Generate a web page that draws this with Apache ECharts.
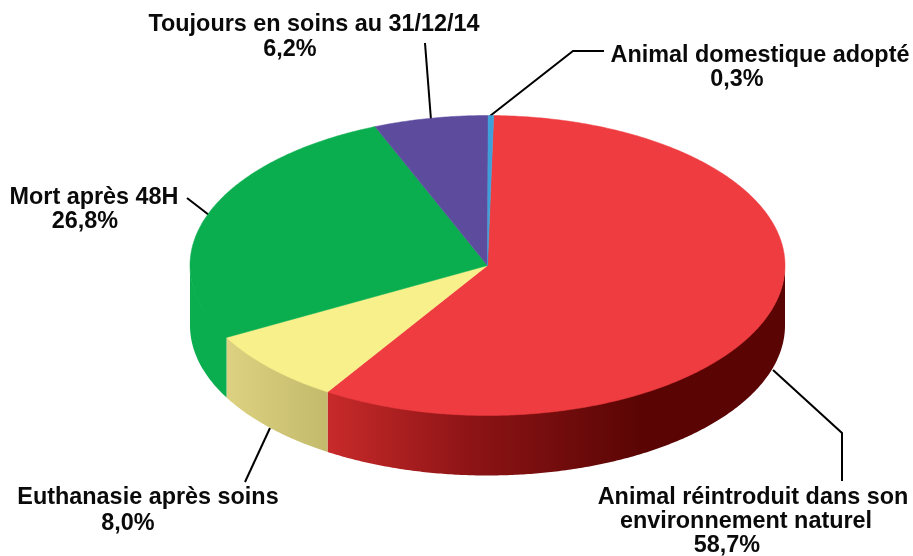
<!DOCTYPE html>
<html>
<head>
<meta charset="utf-8">
<title>Devenir des animaux</title>
<script src="https://cdn.jsdelivr.net/npm/echarts@6/dist/echarts.min.js"></script>
<style>
  html, body { margin: 0; padding: 0; background: #fff; }
  #chart { width: 913px; height: 556px; }
</style>
</head>
<body>
<div id="chart"></div>
<script>
// values, clockwise from the top
const categories = ['Animal réintroduit dans son environnement naturel', 'Euthanasie après soins', 'Mort après 48H', 'Toujours en soins au 31/12/14', 'Animal domestique adopté']
const shares = [58.7, 8.0, 26.8, 6.2, 0.3]
const topColors = ['#ee3c40', '#f8f08a', '#0bae4f', '#5d4b9e', '#3e9fd9']

// fake 3D pie: ellipse + extruded front wall
const cx = 487.5, cy = 265.5, rx = 297.5, ry = 150, depth = 60
const startDeg = 1.2
const total = shares.reduce((a, b) => a + b, 0)

function pt(deg, dy) {
  const t = deg * Math.PI / 180
  return [cx + rx * Math.sin(t), cy - ry * Math.cos(t) + (dy || 0)]
}

function arc(from, to, dy) {
  const pts = []
  const n = Math.max(2, Math.ceil((to - from) / 0.5))
  for (let i = 0; i <= n; i++) pts.push(pt(from + (to - from) * i / n, dy))
  return pts
}

function wallFill(i) {
  if (i === 0) {
    return new echarts.graphic.LinearGradient(328, 0, 640, 0, [
      { offset: 0, color: '#c82a2a' },
      { offset: 0.45, color: '#8e1416' },
      { offset: 1, color: '#5a0504' }
    ], true)
  }
  if (i === 1) {
    return new echarts.graphic.LinearGradient(228, 0, 328, 0, [
      { offset: 0, color: '#dcd180' },
      { offset: 1, color: '#c4ba6c' }
    ], true)
  }
  return topColors[i]
}

function renderSlice(params, api) {
  const i = params.dataIndex
  const before = shares.slice(0, i).reduce((a, b) => a + b, 0)
  const a = startDeg + before / total * 360
  const b = a + api.value(0) / total * 360
  const children = []
  // only the front half of the cylinder shows a wall
  const wa = Math.max(a, 90), wb = Math.min(b, 270)
  if (wb > wa) {
    // top edge tucked 1px under the face so no seam shows
    const top = arc(wa, wb, -1)
    const bottom = arc(wa, wb, depth).reverse()
    children.push({
      type: 'polygon',
      shape: { points: top.concat(bottom) },
      style: { fill: wallFill(i), stroke: null }
    })
  }
  children.push({
    type: 'polygon',
    shape: { points: [[cx, cy]].concat(arc(a, b, 0)) },
    style: { fill: topColors[i], stroke: topColors[i], lineWidth: 0.5 }
  })
  return { type: 'group', children }
}

const fmt = v => v.toFixed(1).replace('.', ',') + '%'
const labelStyle = { font: 'bold 23.4px "Liberation Sans", Arial, sans-serif', fill: '#0a0a0a', textAlign: 'center', textVerticalAlign: 'middle' }

function label(text, x, y) {
  return { type: 'text', x, y, silent: true, style: Object.assign({ text }, labelStyle) }
}

function leader(points) {
  return { type: 'polyline', silent: true, shape: { points }, style: { stroke: '#000', lineWidth: 2, fill: null } }
}

const chart = echarts.init(document.getElementById('chart'), null, { renderer: 'canvas' })
chart.setOption({
  animation: false,
  backgroundColor: '#fff',
  series: [{
    type: 'custom',
    coordinateSystem: 'none',
    renderItem: renderSlice,
    data: shares.map((v, i) => ({ name: categories[i], value: [v] })),
    silent: true
  }],
  graphic: [
    leader([[425, 43], [431, 120]]),
    leader([[490, 116], [573, 51], [604, 51]]),
    leader([[187, 198], [209, 215]]),
    leader([[270, 428], [245, 482]]),
    leader([[773, 370], [842, 433], [842, 481]]),

    label(categories[3], 314, 25),
    label(fmt(shares[3]), 290, 50),
    label(categories[4], 760, 56),
    label(fmt(shares[4]), 737, 80),
    label(categories[2], 94, 198),
    label(fmt(shares[2]), 85, 222),
    label(categories[1], 148, 498),
    label(fmt(shares[1]), 128, 524),
    label('Animal réintroduit dans son', 753, 498),
    label('environnement naturel', 746, 522),
    label(fmt(shares[0]), 727, 546)
  ]
})
</script>
</body>
</html>
